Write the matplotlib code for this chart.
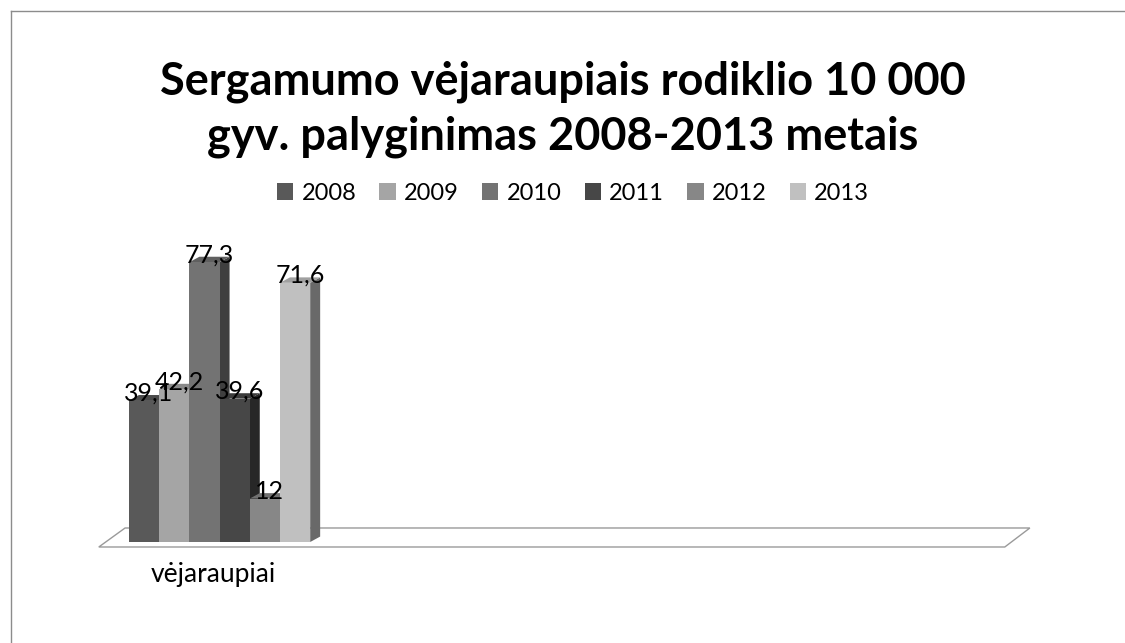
import matplotlib.pyplot as plt
from matplotlib.patches import Polygon, Patch
from matplotlib.lines import Line2D

# data
years = ["2008", "2009", "2010", "2011", "2012", "2013"]
values = [39.1, 42.2, 77.3, 39.6, 12, 71.6]
value_labels = ["39,1", "42,2", "77,3", "39,6", "12", "71,6"]
category = "vėjaraupiai"
title = "Sergamumo vėjaraupiais rodiklio 10 000\ngyv. palyginimas 2008-2013 metais"

# grey shades: front, side, top
front_col = ["#595959", "#a5a5a5", "#737373", "#474747", "#878787", "#c0c0c0"]
side_col = ["#313131", "#5b5b5b", "#3f3f3f", "#272727", "#4a4a4a", "#696969"]
top_col = ["#4a4a4a", "#8a8a8a", "#606060", "#3b3b3b", "#707070", "#a0a0a0"]

plt.rcParams["font.family"] = ["Lato", "DejaVu Sans"]

W, H = 1125, 643
fig = plt.figure(figsize=(W / 100, H / 100), dpi=100)
ax = fig.add_axes([129 / W, (H - 542) / H, 906 / W, 80 * 3.62 / H])
ax.set_xlim(0, 30)
ax.set_ylim(0, 80)
ax.axis("off")

# depth of the 3d bars in data units
dx, dy = 0.33, 1.5

# floor
floor = Polygon([(-1, -1.38), (29, -1.38), (29.83, 3.87), (-0.13, 3.87)],
                closed=True, facecolor="white", edgecolor="#9a9a9a",
                linewidth=1, clip_on=False, zorder=0)
ax.add_patch(floor)

for i, v in enumerate(values):
    z = 2 + i * 3
    ax.bar(i, v, width=1, align="edge", color=front_col[i], linewidth=0, zorder=z + 2)
    ax.add_patch(Polygon([(i + 1, 0), (i + 1 + dx, dy), (i + 1 + dx, v + dy), (i + 1, v)],
                         closed=True, facecolor=side_col[i], linewidth=0, zorder=z))
    ax.add_patch(Polygon([(i, v), (i + dx, v + dy), (i + 1 + dx, v + dy), (i + 1, v)],
                         closed=True, facecolor=top_col[i], linewidth=0, zorder=z + 1))
    # labels overlap a little, as in the original
    ax.text(i + 0.5 + dx / 2, v + 2.0, value_labels[i], ha="center", va="center",
            fontsize=18, color="black", zorder=50, clip_on=False)

ax.text(2.8, -9.1, category, ha="center", va="center", fontsize=19, clip_on=False)

fig.text(0.5, 1 - 109 / H, title, ha="center", va="center", fontsize=32.5,
         fontweight="bold", linespacing=1.37)

handles = [Patch(facecolor=c, edgecolor="none") for c in front_col]
fig.legend(handles, years, loc="center", bbox_to_anchor=(573 / W, 1 - 193 / H),
           ncol=6, frameon=False, fontsize=17, handlelength=0.7, handleheight=0.7,
           handletextpad=0.34, columnspacing=0.98, borderpad=0)

# chart border (left and top edge visible)
fig.add_artist(Line2D([10.5 / W, 10.5 / W], [0, 1 - 11 / H], transform=fig.transFigure,
                      color="#8c8c8c", linewidth=1))
fig.add_artist(Line2D([10.5 / W, 1], [1 - 11 / H, 1 - 11 / H], transform=fig.transFigure,
                      color="#8c8c8c", linewidth=1))

fig.savefig("out.png", dpi=100)
